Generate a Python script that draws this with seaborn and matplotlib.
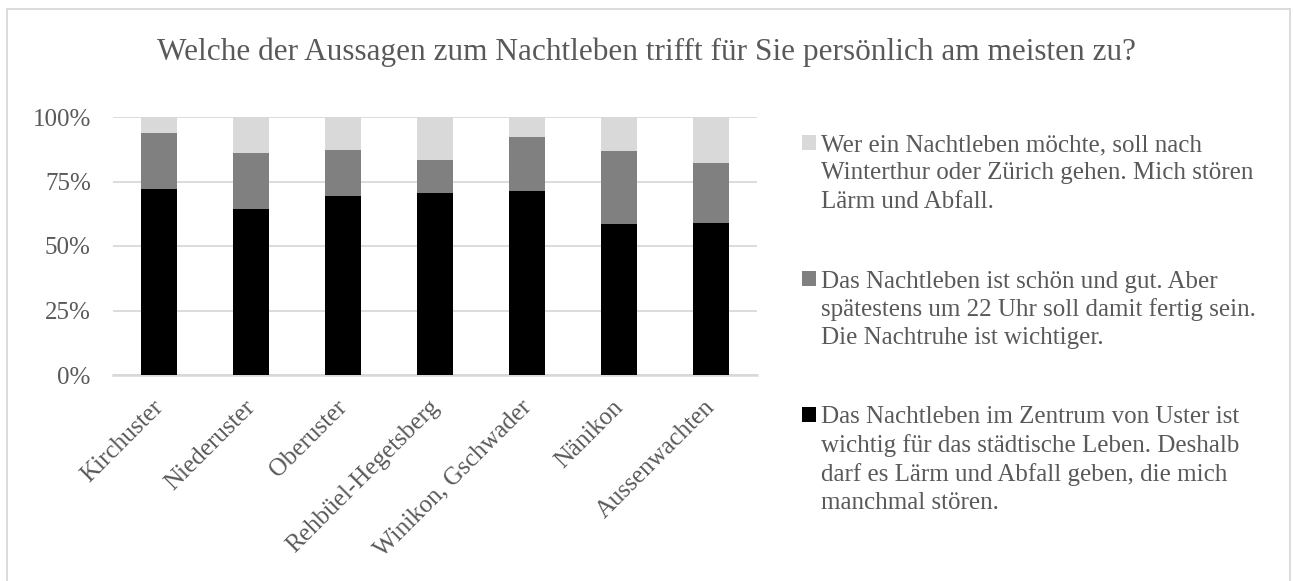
import numpy as np
import pandas as pd
import matplotlib
matplotlib.use("Agg")
import matplotlib.pyplot as plt
import matplotlib.transforms as mtransforms
import seaborn as sns
from matplotlib.patches import Patch, Rectangle

categories = ["Kirchuster", "Niederuster", "Oberuster", "Rehbüel-Hegetsberg",
              "Winikon, Gschwader", "Nänikon", "Aussenwachten"]
wichtig = [72.2, 64.3, 69.3, 70.7, 71.3, 58.6, 58.9]
nachtruhe = [21.5, 21.9, 17.9, 12.8, 20.9, 28.1, 23.4]
winterthur = [6.3, 13.8, 12.8, 16.5, 7.8, 13.3, 17.7]

legend_lines = [
    ["Wer ein Nachtleben möchte, soll nach",
     "Winterthur oder Zürich gehen. Mich stören",
     "Lärm und Abfall."],
    ["Das Nachtleben ist schön und gut. Aber",
     "spätestens um 22 Uhr soll damit fertig sein.",
     "Die Nachtruhe ist wichtiger."],
    ["Das Nachtleben im Zentrum von Uster ist",
     "wichtig für das städtische Leben. Deshalb",
     "darf es Lärm und Abfall geben, die mich",
     "manchmal stören."],
]
colors = ["#000000", "#808080", "#d9d9d9"]
title = "Welche der Aussagen zum Nachtleben trifft für Sie persönlich am meisten zu?"

sns.set_theme(style="white")
plt.rcParams['font.family'] = ['Liberation Serif', 'DejaVu Serif']
text_color = "#595959"
fs = 18

df = pd.DataFrame({"cat": categories, "a": wichtig, "b": nachtruhe, "c": winterthur})
df["ab"] = df["a"] + df["b"]
df["abc"] = df["ab"] + df["c"]

W, H = 1293, 581
fig = plt.figure(figsize=(W / 100, H / 100), dpi=100)
ax = fig.add_axes([113 / W, 1 - 375 / H, 644 / W, 258 / H])

for col, c in zip(["abc", "ab", "a"], colors[::-1]):
    sns.barplot(data=df, x="cat", y=col, color=c, width=0.4, ax=ax,
                saturation=1, linewidth=0, zorder=3)

ax.set_ylim(0, 100)
ax.set_xlim(-0.5, len(categories) - 0.5)
ax.set_yticks([0, 25, 50, 75, 100])
ax.set_yticklabels(["0%", "25%", "50%", "75%", "100%"])
ax.set_xlabel("")
ax.set_ylabel("")
ax.grid(axis="y", color="#d9d9d9", linewidth=1.3, zorder=0)
ax.grid(axis="x", visible=False)
for s in ["top", "right", "left"]:
    ax.spines[s].set_visible(False)
ax.spines["bottom"].set_color("#d9d9d9")
ax.spines["bottom"].set_linewidth(1.8)
ax.tick_params(axis="y", length=0, pad=16, labelsize=fs, labelcolor=text_color)
ax.tick_params(axis="x", length=0, pad=13, labelsize=fs, labelcolor=text_color)
offset = mtransforms.ScaledTranslation(-7 / 100, -3 / 100, fig.dpi_scale_trans)
for lbl in ax.get_xticklabels():
    lbl.set_rotation(45)
    lbl.set_ha("right")
    lbl.set_va("top")
    lbl.set_rotation_mode("anchor")
    lbl.set_transform(lbl.get_transform() + offset)

fig.text(0.5, 1 - 52 / H, title, ha="center", va="center", fontsize=22.5, color=text_color)

# legend: one block per series, marker aligned with first line
group_colors = colors[::-1]
group_tops = [134.5, 270.5, 406]
for lines, c, top in zip(legend_lines, group_colors, group_tops):
    handles = [Patch(facecolor=c, edgecolor="none")] + \
              [Patch(facecolor="none", edgecolor="none") for _ in lines[1:]]
    leg = fig.legend(handles, lines, loc="upper left",
                     bbox_to_anchor=(802 / W, 1 - top / H),
                     frameon=False, fontsize=fs, labelspacing=0.24,
                     handlelength=0.55, handleheight=0.55, handletextpad=0.2,
                     borderpad=0, borderaxespad=0, labelcolor=text_color)

fig.patches.append(Rectangle((7 / W, -0.01), 1283 / W, 1 - 9 / H + 0.01,
                             transform=fig.transFigure, fill=False,
                             edgecolor="#d9d9d9", linewidth=1.3))

fig.savefig("out.png", dpi=100, facecolor="white")
